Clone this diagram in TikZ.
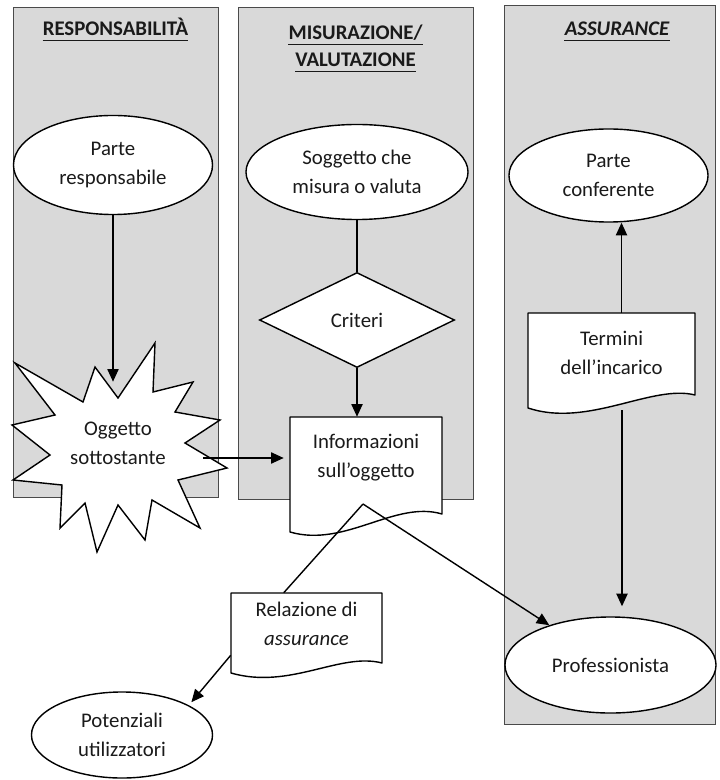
\documentclass[tikz,border=0pt]{standalone}
\usepackage{fontspec}
\setmainfont{Carlito}
\usetikzlibrary{arrows.meta, positioning, calc, shapes.geometric}
\definecolor{panelgray}{HTML}{D9D9D9}
\definecolor{edgegray}{HTML}{4A4A4A}
\definecolor{inkblack}{HTML}{1A1A1A}
\newcommand{\diagfont}{\fontsize{14.8}{20.6}\selectfont}

\tikzset{
  panel/.style={fill=panelgray, draw=edgegray, line width=0.6pt},
  paneltitle/.style={text=inkblack, font=\diagfont\bfseries, anchor=base, inner sep=0pt},
  titlerule/.style={inkblack, line width=0.9pt},
  oval/.style={ellipse, draw=black, fill=white, line width=1pt, align=center,
    text=inkblack, font=\diagfont, inner sep=0pt},
  rhomb/.style={diamond, draw=black, fill=white, line width=1pt,
    text=inkblack, font=\diagfont, inner sep=0pt},
  docshape/.style={draw=black, fill=white, line width=1pt, line join=round},
  doclabel/.style={rectangle, align=center, text=inkblack, font=\diagfont, inner sep=0pt},
  starline/.style={draw=black, fill=white, line width=1pt},
  link/.style={black, line width=1pt},
}

\begin{document}
\begin{tikzpicture}[x=0.025cm, y=-0.025cm, >={Triangle[length=9pt, width=8pt]}]

\useasboundingbox (0,0) rectangle (720,780);

% Panels
\draw[panel] (13,7) rectangle (218,497);
\draw[panel] (238,7) rectangle (473,499);
\draw[panel] (504,5) rectangle (715,724);

% Panel titles
\node[paneltitle] (tresp) at (115.5,36) {RESPONSABILITÀ};
\node[paneltitle] (tmis) at (355.5,40) {MISURAZIONE/};
\node[paneltitle] (tval) at (355.5,67) {VALUTAZIONE};
\node[paneltitle, font=\diagfont\bfseries\itshape] (tass) at (617,36) {ASSURANCE};
\foreach \t in {tresp, tmis, tval, tass}
  \draw[titlerule] ([yshift=-0.11cm]\t.base west) -- ([yshift=-0.11cm]\t.base east);

% Responsabilita column
\node[oval, minimum width=4.975cm, minimum height=2.475cm] (parteresp) at (113,165)
  {Parte\\responsabile};

\draw[starline] (155,343) -- (153,392) -- (193,382) -- (175,412) -- (220,420)
  -- (185,443) -- (227,468) -- (178,480) -- (200,528) -- (152,500) -- (145,540)
  -- (118,505) -- (97,552) -- (85,503) -- (60,528) -- (62,485) -- (13,480)
  -- (50,455) -- (12,425) -- (55,415) -- (15,363) -- (83,402) -- (95,367)
  -- (118,398) -- cycle;
\node[doclabel, minimum width=4.25cm, minimum height=3.05cm] (oggetto) at (118,443)
  {Oggetto\\sottostante};

% Misurazione column
\node[oval, minimum width=5.55cm, minimum height=2.375cm] (soggetto) at (357,172)
  {Soggetto che\\misura o valuta};
\node[rhomb, minimum width=4.875cm, minimum height=2.375cm] (criteri) at (357,320) {Criteri};

\draw[docshape] (290,417) -- (442,417) -- (442,514)
  .. controls (395,500) and (345,548) .. (290,532) -- cycle;
\node[doclabel, minimum width=3.8cm, minimum height=2.05cm] (info) at (366,458)
  {Informazioni\\sull’oggetto};
\coordinate (infoout) at (363,504);

% Report and users
\draw[docshape] (231,593) -- (382,593) -- (382,663)
  .. controls (340,652) and (290,690) .. (231,673) -- cycle;
\node[doclabel, minimum width=3.775cm, minimum height=1.55cm] (relazione) at (306.5,624)
  {Relazione di\\\textit{assurance}};
\node[oval, minimum width=4.525cm, minimum height=2.15cm] (potenziali) at (122,735)
  {Potenziali\\utilizzatori};

% Assurance column
\node[oval, minimum width=4.975cm, minimum height=2.325cm] (conferente) at (608.5,175.5)
  {Parte\\conferente};
\draw[docshape] (528,313) -- (695,313) -- (695,395)
  .. controls (652,384) and (588,428) .. (528,408) -- cycle;
\node[doclabel, minimum width=4.175cm, minimum height=2cm] (termini) at (611.5,353)
  {Termini\\dell’incarico};
\coordinate (termbot) at (622,410);
\node[oval, minimum width=5.275cm, minimum height=2.4cm] (prof) at (610.5,665)
  {Professionista};

% Connectors
\draw[link, ->] (parteresp.south) -- (parteresp.south |- oggetto.north);
\draw[link, ->, shorten >=1.5mm] (oggetto.east |- info.west) -- (info.west);
\draw[link] (soggetto.south) -- (criteri.north);
\draw[link, ->] (criteri.south) -- (criteri.south |- info.north);
\draw[link] (infoout) -- ($(relazione.north west)!0.35!(relazione.north east)$);
\draw[link, ->] (infoout) -- (prof);
\draw[link, ->, shorten >=1mm] (relazione.south west) -- (potenziali.24);
\draw[link, ->] ([xshift=0.25cm]termini.north) -- ([xshift=0.25cm]termini.north |- conferente.south);
\draw[link, ->, shorten >=2.5mm] (termbot) -- (termbot |- prof.north);

\end{tikzpicture}
\end{document}
